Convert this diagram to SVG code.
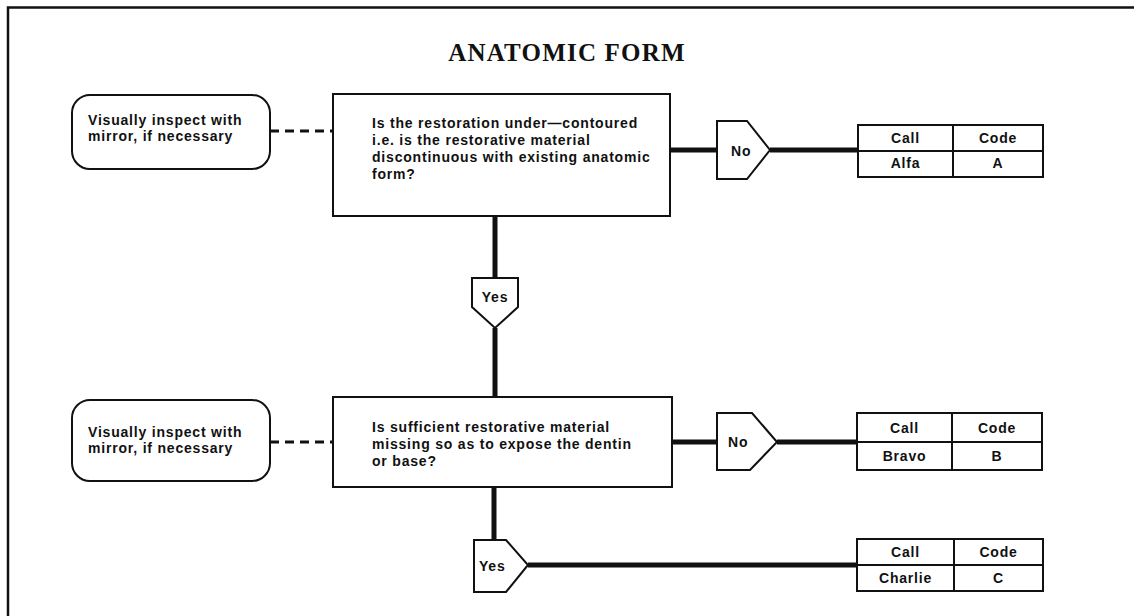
<svg xmlns="http://www.w3.org/2000/svg" width="1134" height="616" viewBox="0 0 1134 616">
<style>
.t{font-family:"Liberation Sans",Arial,sans-serif;font-weight:bold;font-size:14px;letter-spacing:0.8px;fill:#111}
.c{text-anchor:middle}
.box{fill:#fff;stroke:#111;stroke-width:2}
.thick{stroke:#111;stroke-width:5;fill:none}
.dash{stroke:#111;stroke-width:3;stroke-dasharray:9 6;fill:none}
.grid{stroke:#111;stroke-width:2;fill:none}
.title{font-family:"Liberation Serif","Times New Roman",serif;font-weight:bold;font-size:25px;letter-spacing:1.2px;fill:#111;text-anchor:middle}
</style>
<rect width="1134" height="616" fill="#fff"/>
<path d="M8 616 V7.5 H1134" stroke="#111" stroke-width="2.5" fill="none"/>
<text class="title" x="567" y="61">ANATOMIC FORM</text>

<g id="connectors">
<line class="dash" x1="270" y1="131" x2="333" y2="131"/>
<line class="dash" x1="270" y1="442" x2="333" y2="442"/>
<line class="thick" x1="670" y1="150" x2="717" y2="150"/>
<line class="thick" x1="770" y1="150" x2="858" y2="150"/>
<line class="thick" x1="495" y1="216" x2="495" y2="278"/>
<line class="thick" x1="495" y1="328" x2="495" y2="397"/>
<line class="thick" x1="672" y1="442" x2="717" y2="442"/>
<line class="thick" x1="777" y1="442" x2="857" y2="442"/>
<line class="thick" x1="494" y1="487" x2="494" y2="540"/>
<line class="thick" x1="528" y1="565" x2="857" y2="565"/>
</g>

<g id="inspect1">
<rect class="box" x="72" y="95" width="198" height="74" rx="18"/>
<text class="t" x="88" y="125">Visually inspect with</text>
<text class="t" x="88" y="141">mirror, if necessary</text>
</g>

<g id="question1">
<rect class="box" x="333" y="94" width="337" height="122"/>
<text class="t" x="372" y="128">Is the restoration under—contoured</text>
<text class="t" x="372" y="145">i.e. is the restorative material</text>
<text class="t" x="372" y="162">discontinuous with existing anatomic</text>
<text class="t" x="372" y="179">form?</text>
</g>

<g id="no1">
<polygon class="box" points="717,121 747,121 770,150 747,179 717,179"/>
<text class="t" x="731" y="156">No</text>
</g>

<g id="table1">
<rect class="grid" x="858" y="125" width="185" height="52"/>
<line class="grid" x1="858" y1="151" x2="1043" y2="151"/>
<line class="grid" x1="953" y1="125" x2="953" y2="177"/>
<text class="t c" x="905.5" y="143">Call</text>
<text class="t c" x="998" y="143">Code</text>
<text class="t c" x="905.5" y="168">Alfa</text>
<text class="t c" x="998" y="168">A</text>
</g>

<g id="yes1">
<polygon class="box" points="472,278 518,278 518,307 495,328 472,307"/>
<text class="t c" x="495" y="302">Yes</text>
</g>

<g id="inspect2">
<rect class="box" x="72" y="400" width="198" height="81" rx="18"/>
<text class="t" x="88" y="437">Visually inspect with</text>
<text class="t" x="88" y="453">mirror, if necessary</text>
</g>

<g id="question2">
<rect class="box" x="333" y="397" width="339" height="90"/>
<text class="t" x="372" y="432">Is sufficient restorative material</text>
<text class="t" x="372" y="449">missing so as to expose the dentin</text>
<text class="t" x="372" y="466">or base?</text>
</g>

<g id="no2">
<polygon class="box" points="717,413 752,413 777,442 750,470 717,470"/>
<text class="t" x="728" y="447">No</text>
</g>

<g id="table2">
<rect class="grid" x="857" y="413" width="185" height="57"/>
<line class="grid" x1="857" y1="442" x2="1042" y2="442"/>
<line class="grid" x1="952" y1="413" x2="952" y2="470"/>
<text class="t c" x="904.5" y="433">Call</text>
<text class="t c" x="997" y="433">Code</text>
<text class="t c" x="904.5" y="461">Bravo</text>
<text class="t c" x="997" y="461">B</text>
</g>

<g id="yes2">
<polygon class="box" points="474,540 506,540 528,565 506,592 474,592"/>
<text class="t" x="479" y="571">Yes</text>
</g>

<g id="table3">
<rect class="grid" x="857" y="539" width="186" height="52"/>
<line class="grid" x1="857" y1="565" x2="1043" y2="565"/>
<line class="grid" x1="954" y1="539" x2="954" y2="591"/>
<text class="t c" x="905.5" y="557">Call</text>
<text class="t c" x="998.5" y="557">Code</text>
<text class="t c" x="905.5" y="583">Charlie</text>
<text class="t c" x="998.5" y="583">C</text>
</g>
</svg>
